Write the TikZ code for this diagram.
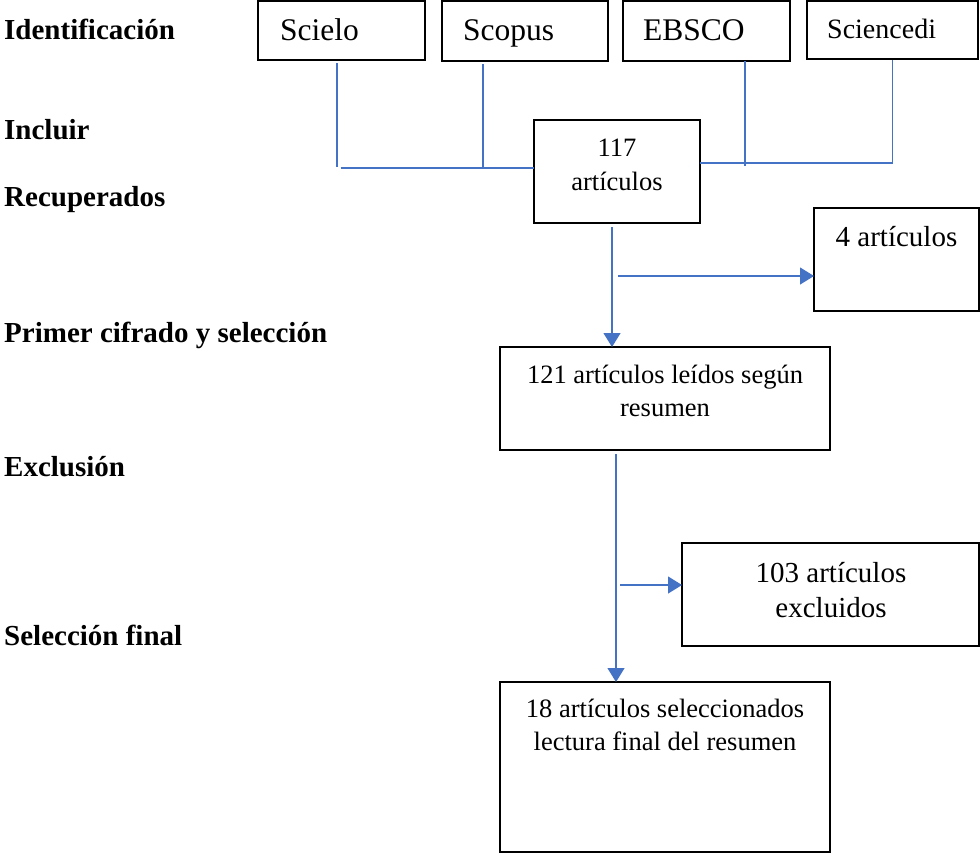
\documentclass[tikz,border=0pt]{standalone}
\usepackage{fontspec}
\setmainfont{Liberation Serif}
\usetikzlibrary{arrows.meta,calc}
\definecolor{lineblue}{HTML}{4472C4}
\tikzset{
  box/.style={draw=black, line width=1.2pt, inner sep=0pt, outer sep=0pt},
  conn/.style={draw=lineblue, line width=1.2pt},
  arr/.style={conn, -{Triangle[length=14pt,width=17pt]}},
  lbl/.style={anchor=base west, inner sep=0pt, font=\fontsize{29}{33}\selectfont\bfseries},
  txt/.style={anchor=base, inner sep=0pt},
}
\begin{document}
\begin{tikzpicture}[x=1pt,y=-1pt]
\useasboundingbox (0,0) rectangle (980,855);
% left stage labels
\node[lbl] (l1) at (4,39) {Identificación};
\node[lbl] (l2) at (4,139) {Incluir};
\node[lbl] (l3) at (4,206) {Recuperados};
\node[lbl] (l4) at (4,342) {Primer cifrado y selección};
\node[lbl] (l5) at (4,476) {Exclusión};
\node[lbl] (l6) at (4,645) {Selección final};
% source boxes
\node[box, minimum width=167pt, minimum height=59pt] (scielo) at (341.5,30.5) {};
\node[box, minimum width=166pt, minimum height=60pt] (scopus) at (525,31) {};
\node[box, minimum width=167pt, minimum height=60pt] (ebsco) at (706.5,31) {};
\node[box, minimum width=171pt, minimum height=58pt] (sciencedi) at (892.5,30) {};
\node[anchor=base west, inner sep=0pt, font=\fontsize{31.5}{36}\selectfont] (t1) at (280,40) {Scielo};
\node[anchor=base west, inner sep=0pt, font=\fontsize{31.5}{36}\selectfont] (t2) at (463,40) {Scopus};
\node[anchor=base west, inner sep=0pt, font=\fontsize{31.5}{36}\selectfont] (t3) at (643,40) {EBSCO};
\node[anchor=base west, inner sep=0pt, font=\fontsize{28}{33}\selectfont] (t4) at (827,38) {Sciencedi};
% flow boxes
\node[box, minimum width=166pt, minimum height=103pt] (n117) at (617,171.5) {};
\node[txt, font=\fontsize{26.5}{30}\selectfont] (t117a) at (617,156) {117};
\node[txt, font=\fontsize{26.5}{30}\selectfont] (t117b) at (617,190) {artículos};

\node[box, minimum width=165pt, minimum height=103pt] (n4) at (896.5,259.5) {};
\node[txt, font=\fontsize{29}{33}\selectfont] (t4a) at (896.5,246) {4 artículos};

\node[box, minimum width=330pt, minimum height=103pt] (n121) at (665,398.5) {};
\node[txt, font=\fontsize{26.5}{30}\selectfont] (t121a) at (665,383) {121 artículos leídos según};
\node[txt, font=\fontsize{26.5}{30}\selectfont] (t121b) at (665,416) {resumen};

\node[box, minimum width=297pt, minimum height=103pt] (n103) at (830.5,594.5) {};
\node[txt, font=\fontsize{29}{33}\selectfont] (t103a) at (831,582) {103 artículos};
\node[txt, font=\fontsize{29}{33}\selectfont] (t103b) at (831,617) {excluidos};

\node[box, minimum width=330pt, minimum height=170pt] (n18) at (665,767) {};
\node[txt, font=\fontsize{26.5}{30}\selectfont] (t18a) at (665,717) {18 artículos seleccionados};
\node[txt, font=\fontsize{26.5}{30}\selectfont] (t18b) at (665,750) {lectura final del resumen};

% connectors from sources to 117
\draw[conn] ([xshift=-4.5pt,yshift=-3pt]scielo.south) -- ++(0,104);
\coordinate (h1) at ([yshift=3.5pt]n117.west);
\draw[conn] ([xshift=-1pt]h1 -| scielo.south) -- (h1);
\draw[conn] ([xshift=-42pt,yshift=-3pt]scopus.south) -- ++(0,105);
\draw[conn] ([xshift=38.5pt]ebsco.south) -- ++(0,105);
\draw[conn] ([yshift=-1pt]sciencedi.south) |- ([yshift=8.5pt]n117.east);

% 117 -> 121, branch to 4
\coordinate (a1) at ([xshift=-5pt,yshift=-4pt]n117.south);
\draw[arr] (a1) -- (a1 |- n121.north);
\coordinate (b1) at ([yshift=-16.5pt]n4.west);
\draw[arr] ([xshift=6pt]b1 -| a1) -- (b1);

% 121 -> 18, branch to 103
\coordinate (a2) at ([xshift=-49pt,yshift=-4pt]n121.south);
\draw[arr] (a2) -- (a2 |- n18.north);
\coordinate (b2) at ([yshift=9.5pt]n103.west);
\draw[arr] ([xshift=4pt]b2 -| a2) -- (b2);
\end{tikzpicture}
\end{document}
